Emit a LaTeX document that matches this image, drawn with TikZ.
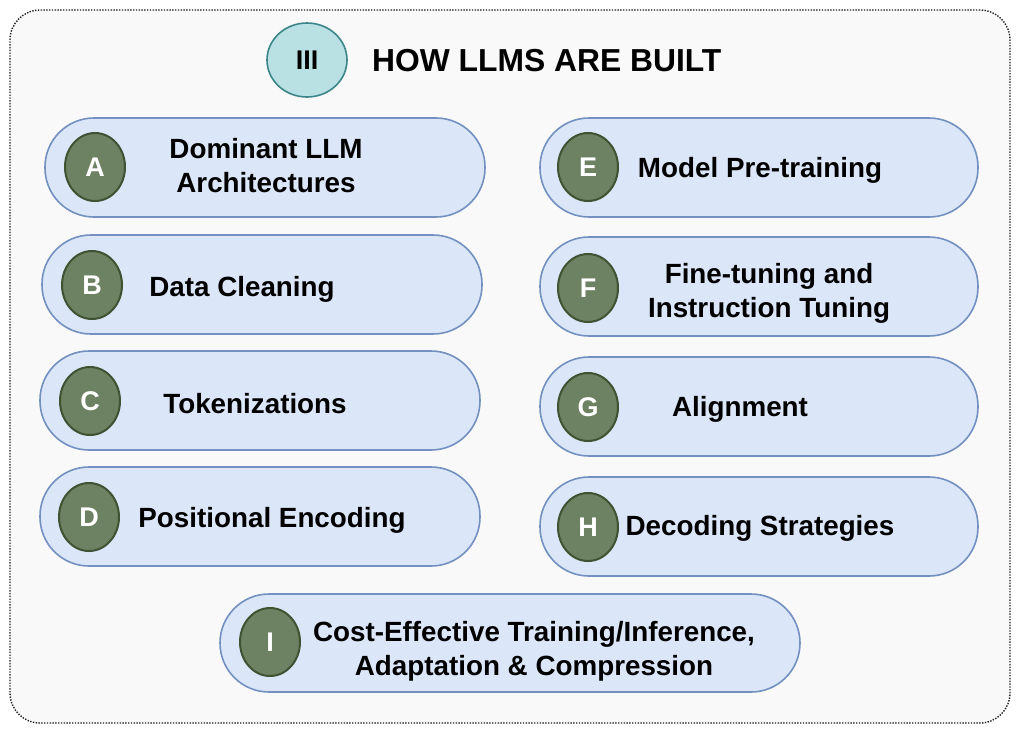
\documentclass[tikz,border=0pt]{standalone}
\usepackage{fontspec}
\setmainfont{Liberation Sans}
\usetikzlibrary{shapes.geometric}
\definecolor{bgfill}{HTML}{F9F9F9}
\definecolor{framecol}{HTML}{222222}
\definecolor{pillfill}{HTML}{DBE6F8}
\definecolor{pilldraw}{HTML}{7390C0}
\definecolor{dotfill}{HTML}{6D8262}
\definecolor{dotdraw}{HTML}{3F5232}
\definecolor{titlefill}{HTML}{B9E0E2}
\definecolor{titledraw}{HTML}{3D8588}
\tikzset{
  pill/.style={draw=pilldraw, fill=pillfill, line width=1.6pt, rounded corners=49pt, minimum height=99pt, inner sep=0pt},
  badge/.style={ellipse, draw=dotdraw, fill=dotfill, line width=2pt, minimum width=60pt, minimum height=68pt, inner sep=0pt, text=white, font=\bfseries\fontsize{27}{30}\selectfont},
  lbl/.style={align=center, font=\bfseries\fontsize{27.8}{34}\selectfont, inner sep=0pt}
}
\begin{document}
\begin{tikzpicture}[x=1pt,y=-1pt]
\useasboundingbox (0,0) rectangle (1022,740);
\node[draw=framecol, fill=bgfill, line width=1.4pt, dash pattern=on 1.4pt off 1.4pt, rounded corners=30pt, minimum width=1000pt, minimum height=713pt, inner sep=0pt] (frame) at (510,366.5) {};
% title
\node[ellipse, draw=titledraw, fill=titlefill, line width=1.6pt, minimum width=80pt, minimum height=74pt, inner sep=0pt, font=\bfseries\fontsize{27}{30}\selectfont] (tnum) at (307,60) {III};
\node[font=\bfseries\fontsize{31.8}{36}\selectfont, anchor=west, inner sep=0pt] (title) at (372,61) {HOW LLMS ARE BUILT};
% left column
\node[pill, minimum width=440pt] (pA) at (265,167.5) {};
\node[badge] (bA) at (95,167) {A};
\node[lbl] (tA) at (266,166) {Dominant LLM\\Architectures};
\node[pill, minimum width=440pt] (pB) at (262,284.5) {};
\node[badge] (bB) at (92,285) {B};
\node[lbl] (tB) at (242,289.5) {Data Cleaning};
\node[pill, minimum width=440pt] (pC) at (260,400.5) {};
\node[badge] (bC) at (90,401) {C};
\node[lbl] (tC) at (255,403.5) {Tokenizations};
\node[pill, minimum width=440pt] (pD) at (260,516.5) {};
\node[badge] (bD) at (89,517) {D};
\node[lbl] (tD) at (272,520) {Positional Encoding};
% right column
\node[pill, minimum width=438pt] (pE) at (759,167.5) {};
\node[badge] (bE) at (588,167) {E};
\node[lbl] (tE) at (760,170.5) {Model Pre-training};
\node[pill, minimum width=438pt] (pF) at (759,286.5) {};
\node[badge] (bF) at (588,288) {F};
\node[lbl] (tF) at (769,293) {Fine-tuning and\\Instruction Tuning};
\node[pill, minimum width=438pt] (pG) at (759,406.5) {};
\node[badge] (bG) at (588,407) {G};
\node[lbl] (tG) at (740,409.5) {Alignment};
\node[pill, minimum width=438pt] (pH) at (759,526.5) {};
\node[badge] (bH) at (588,527) {H};
\node[lbl] (tH) at (760,528.5) {Decoding Strategies};
% bottom
\node[pill, minimum width=580pt, minimum height=98pt] (pI) at (510,643) {};
\node[badge] (bI) at (270,642) {I};
\node[lbl] (tI) at (534,651) {Cost-Effective Training/Inference,\\Adaptation \& Compression};
\end{tikzpicture}
\end{document}
